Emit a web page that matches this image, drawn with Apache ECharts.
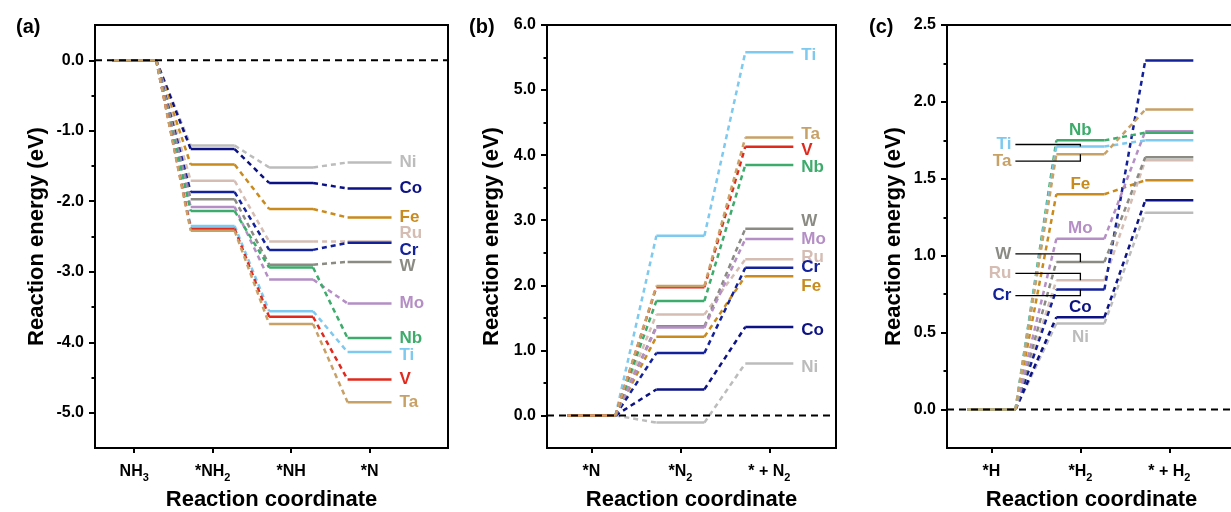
<!DOCTYPE html>
<html>
<head>
<meta charset="utf-8">
<script src="https://cdn.jsdelivr.net/npm/echarts@6/dist/echarts.min.js"></script>
<style>
  html, body { margin: 0; padding: 0; background: #fff; }
  #chart { width: 1231px; height: 512px; }
</style>
</head>
<body>
<div id="chart"></div>
<script>
// (a) NH3 -> *N
const aSteps = ['NH3', '*NH2', '*NH', '*N'];
const aMetals = ['Ni', 'Co', 'Fe', 'Ru', 'Cr', 'W', 'Mo', 'Nb', 'Ti', 'V', 'Ta'];
const aNH3 = [0, 0, 0, 0, 0, 0, 0, 0, 0, 0, 0];
const aNH2 = [-1.21, -1.26, -1.48, -1.71, -1.87, -1.97, -2.08, -2.14, -2.35, -2.39, -2.42];
const aNH = [-1.52, -1.74, -2.11, -2.57, -2.69, -2.90, -3.11, -2.94, -3.56, -3.64, -3.74];
const aN = [-1.45, -1.82, -2.23, -2.57, -2.59, -2.86, -3.45, -3.94, -4.14, -4.53, -4.85];

// (b) *N -> N2
const bSteps = ['*N', '*N2', '* + N2'];
const bMetals = ['Ni', 'Co', 'Fe', 'Ru', 'Cr', 'W', 'Mo', 'Nb', 'Ti', 'V', 'Ta'];
const bN = [0, 0, 0, 0, 0, 0, 0, 0, 0, 0, 0];
const bN2 = [-0.11, 0.40, 1.21, 1.55, 0.96, 1.37, 1.35, 1.76, 2.76, 1.97, 1.99];
const bN2free = [0.80, 1.36, 2.14, 2.40, 2.27, 2.87, 2.71, 3.85, 5.58, 4.13, 4.27];

// (c) *H -> H2
const cSteps = ['*H', '*H2', '* + H2'];
const cMetals = ['Ni', 'Co', 'Fe', 'Ru', 'Cr', 'W', 'Mo', 'Nb', 'Ti', 'Ta'];
const cH = [0, 0, 0, 0, 0, 0, 0, 0, 0, 0];
const cH2 = [0.56, 0.60, 1.40, 0.84, 0.78, 0.96, 1.11, 1.75, 1.71, 1.66];
const cH2free = [1.28, 1.36, 1.49, 1.62, 2.27, 1.64, 1.81, 1.80, 1.75, 1.95];

const FONT = 'Liberation Sans';
const colors = {
  Ni: '#bcbcbc', Co: '#0c1283', Fe: '#c98b1e', Ru: '#d5bdb4', Cr: '#14229a', W: '#8b8b84',
  Mo: '#b48ec4', Nb: '#3dab6b', Ti: '#7dc9ef', V: '#e02a1e', Ta: '#c8a167'
};

// label tweaks (pixels)
const aLabelDy = { Ru: -8, Cr: 7, W: 4, Ti: 3 };
const bLabelDy = { Ti: 3, Ta: -3, V: 4, Nb: 2, W: -7, Ru: -2, Fe: 10, Co: 3, Ni: 4 };
const cLabelPos = {
  Ti: ['left', -2], Ta: ['left', 7], W: ['left', -8], Ru: ['left', -7], Cr: ['left', 6],
  Nb: ['above', -10], Fe: ['above', -10], Mo: ['above', -10], Co: ['above', -10], Ni: ['above', 14]
};

const panels = [
  { tag: '(a)', steps: aSteps, metals: aMetals, levels: [aNH3, aNH2, aNH, aN],
    grid: { left: 95, top: 25, width: 353, height: 423 }, x: [-0.5, 4.0], y: [-5.5, 0.5],
    major: [-5, -4, -3, -2, -1, 0], minor: [-4.5, -3.5, -2.5, -1.5, -0.5],
    hw: 0.28, nameGap: 47, tagX: 11 },
  { tag: '(b)', steps: bSteps, metals: bMetals, levels: [bN, bN2, bN2free],
    grid: { left: 547, top: 25, width: 289, height: 423 }, x: [-0.5, 2.75], y: [-0.5, 6.0],
    major: [0, 1, 2, 3, 4, 5, 6], minor: [0.5, 1.5, 2.5, 3.5, 4.5, 5.5],
    hw: 0.27, nameGap: 44, tagX: 464 },
  { tag: '(c)', steps: cSteps, metals: cMetals, levels: [cH, cH2, cH2free],
    grid: { left: 947, top: 25, width: 289, height: 423 }, x: [-0.5, 2.75], y: [-0.25, 2.5],
    major: [0, 0.5, 1, 1.5, 2, 2.5], minor: [0.25, 0.75, 1.25, 1.75, 2.25],
    hw: 0.27, nameGap: 42, tagX: 864 }
];

function stepFormatter(steps) {
  return function (v) {
    const s = steps[Math.round(v)];
    if (s == null) return '';
    const m = s.match(/^(.*?)(\d)$/);
    return m ? '{m|' + m[1] + '}{s|' + m[2] + '}' : '{m|' + s + '}';
  };
}

function labelText(name, x, y, align) {
  return {
    type: 'text', x: x, y: y, z2: 10,
    style: { text: name, fill: colors[name], fontSize: 17, fontWeight: 'bold', fontFamily: FONT,
      align: align, verticalAlign: 'middle' }
  };
}

function makeRender(pi, name, vals) {
  const p = panels[pi];
  return function (params, api) {
    const i = api.value(0), v = api.value(1);
    const color = colors[name];
    const a = api.coord([i - p.hw, v]);
    const b = api.coord([i + p.hw, v]);
    const kids = [{
      type: 'line', shape: { x1: a[0], y1: a[1], x2: b[0], y2: b[1] },
      style: { stroke: color, lineWidth: 2.5 }
    }];
    if (i < vals.length - 1) {
      const c = api.coord([i + 1 - p.hw, vals[i + 1]]);
      kids.push({
        type: 'line', shape: { x1: b[0], y1: b[1], x2: c[0], y2: c[1] },
        style: { stroke: color, lineWidth: 2.5, lineDash: [5, 4] }
      });
    }
    if (pi < 2 && i === vals.length - 1) {
      const dy = (pi === 0 ? aLabelDy : bLabelDy)[name] || 0;
      kids.push(labelText(name, b[0] + 8, b[1] + dy, 'left'));
    }
    if (pi === 2 && i === 1 && cLabelPos[name]) {
      const mode = cLabelPos[name][0], dy = cLabelPos[name][1];
      const xc = api.coord([1, v])[0];
      if (mode === 'left') {
        const ly = a[1] + dy;
        kids.push({ type: 'polyline', z2: 9, shape: { points: [[xc - 65, ly], [xc, ly], [xc, a[1]]] },
          style: { stroke: '#000', lineWidth: 1.3, fill: null } });
        kids.push(labelText(name, xc - 69, ly, 'right'));
      } else {
        kids.push(labelText(name, xc, a[1] + dy, 'center'));
      }
    }
    return { type: 'group', children: kids };
  };
}

const option = {
  animation: false,
  backgroundColor: '#fff',
  title: panels.map(p => ({
    text: p.tag, left: p.tagX, top: 12,
    textStyle: { fontSize: 20, fontWeight: 'bold', fontFamily: FONT, color: '#000' }
  })),
  grid: panels.map(p => Object.assign({ show: true, borderColor: '#000', borderWidth: 2, outerBoundsMode: 'none', containLabel: false }, p.grid)),
  xAxis: panels.map((p, pi) => ({
    gridIndex: pi, type: 'value', min: p.x[0], max: p.x[1], position: 'bottom',
    axisLine: { onZero: false, lineStyle: { color: '#000', width: 2 } },
    axisTick: { show: true, customValues: p.steps.map((s, i) => i), length: 5, lineStyle: { color: '#000', width: 2 } },
    axisLabel: {
      customValues: p.steps.map((s, i) => i), margin: 13, formatter: stepFormatter(p.steps),
      rich: {
        m: { fontSize: 16, fontWeight: 'bold', fontFamily: FONT, color: '#000', lineHeight: 22 },
        s: { fontSize: 11, fontWeight: 'bold', fontFamily: FONT, color: '#000', lineHeight: 12, verticalAlign: 'bottom' }
      }
    },
    splitLine: { show: false },
    name: 'Reaction coordinate', nameLocation: 'middle', nameGap: 41,
    nameTextStyle: { fontSize: 22, fontWeight: 'bold', fontFamily: FONT, color: '#000' }
  })),
  yAxis: panels.flatMap((p, pi) => [{
    gridIndex: pi, type: 'value', min: p.y[0], max: p.y[1], position: 'left',
    axisLine: { show: true, onZero: false, lineStyle: { color: '#000', width: 2 } },
    axisTick: { show: true, customValues: p.major, length: 6, lineStyle: { color: '#000', width: 2 } },
    axisLabel: {
      customValues: p.major, margin: 11, formatter: v => v.toFixed(1),
      fontSize: 16, fontWeight: 'bold', fontFamily: FONT, color: '#000'
    },
    splitLine: { show: false },
    name: 'Reaction energy (eV)', nameLocation: 'middle', nameGap: p.nameGap,
    nameTextStyle: { fontSize: 22, fontWeight: 'bold', fontFamily: FONT, color: '#000' }
  }, {
    gridIndex: pi, type: 'value', min: p.y[0], max: p.y[1], position: 'left', offset: 0,
    axisLine: { show: false, onZero: false },
    axisTick: { show: true, customValues: p.minor, length: 3.5, lineStyle: { color: '#000', width: 2 } },
    axisLabel: { show: false },
    splitLine: { show: false }
  }]),
  series: []
};

panels.forEach((p, pi) => {
  p.metals.forEach((name, k) => {
    const vals = p.levels.map(arr => arr[k]);
    option.series.push({
      type: 'custom', name: name, xAxisIndex: pi, yAxisIndex: pi * 2, z: 2,
      renderItem: makeRender(pi, name, vals),
      data: vals.map((v, i) => [i, v])
    });
  });
  option.series.push({
    type: 'custom', name: 'zero', xAxisIndex: pi, yAxisIndex: pi * 2, z: 3,
    renderItem: function (params, api) {
      const cs = params.coordSys;
      const y = api.coord([0, api.value(1)])[1];
      return { type: 'line', shape: { x1: cs.x, y1: y, x2: cs.x + cs.width, y2: y },
        style: { stroke: '#000', lineWidth: 2, lineDash: [7, 5] } };
    },
    data: [[0, 0]]
  });
});

const chart = echarts.init(document.getElementById('chart'));
chart.setOption(option);
</script>
</body>
</html>
